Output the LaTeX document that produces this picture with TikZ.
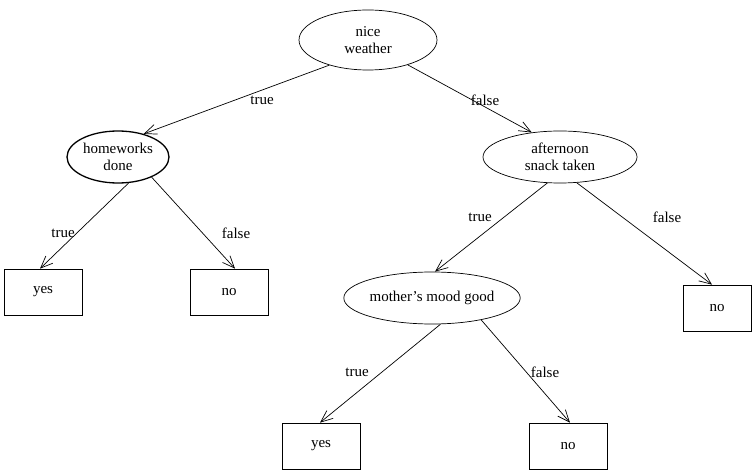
\documentclass[tikz,border=0pt]{standalone}
\usepackage{fontspec}
\setmainfont{Liberation Serif}
\usetikzlibrary{shapes.geometric,arrows.meta}

\tikzset{
  test/.style={ellipse,draw,inner sep=0pt,align=center},
  outcome/.style={rectangle,draw,inner sep=0pt,minimum width=78pt,minimum height=46pt},
  branch/.style={-{Straight Barb[length=12pt,width=10pt]}},
  lbl/.style={inner sep=1pt}
}

\begin{document}
\begin{tikzpicture}[x=1pt,y=-1pt,line width=0.7pt,font=\fontsize{15}{17}\selectfont]
\useasboundingbox (0,0) rectangle (752,470);
% tests
\node[test,minimum width=138pt,minimum height=60pt] (weather) at (368,40) {nice\\weather};
\node[test,line width=1.3pt,minimum width=102pt,minimum height=52pt] (homework) at (118,157) {homeworks\\done};
\node[test,minimum width=154pt,minimum height=52pt] (snack) at (560,157) {afternoon\\snack taken};
\node[test,minimum width=150pt,minimum height=52pt] (mood) at (432,298) {mother's mood good};
% leaves
\node[outcome] (yesA) at (43,292) {yes};
\node[outcome] (noA) at (229,292) {no};
\node[outcome,minimum width=68pt] (noB) at (717,308) {no};
\node[outcome] (yesC) at (321,446) {yes};
\node[outcome] (noC) at (568,446) {no};
% branches
\draw[branch] (weather.213) -- (homework.42);
\draw[branch] (weather.-32) -- (snack.139);
\draw[branch] (homework.-68) -- ([xshift=-3pt]yesA.north);
\draw[branch] (homework.-31) -- ([xshift=6pt]noA.north);
\draw[branch] (snack.-116) -- ([xshift=3pt]mood.north);
\draw[branch] (snack.-57) -- ([xshift=-5pt]noB.north);
\draw[branch] (mood.-72) -- ([xshift=-1pt]yesC.north);
\draw[branch] (mood.-24) -- ([xshift=2pt]noC.north);
% branch labels
\node[lbl] (t1) at (262,100) {true};
\node[lbl] (f1) at (485,100) {false};
\node[lbl] (t2) at (63,233) {true};
\node[lbl] (f2) at (236,233) {false};
\node[lbl] (t3) at (480,217) {true};
\node[lbl] (f3) at (667,217) {false};
\node[lbl] (t4) at (357,372) {true};
\node[lbl] (f4) at (545,372) {false};
\end{tikzpicture}
\end{document}
